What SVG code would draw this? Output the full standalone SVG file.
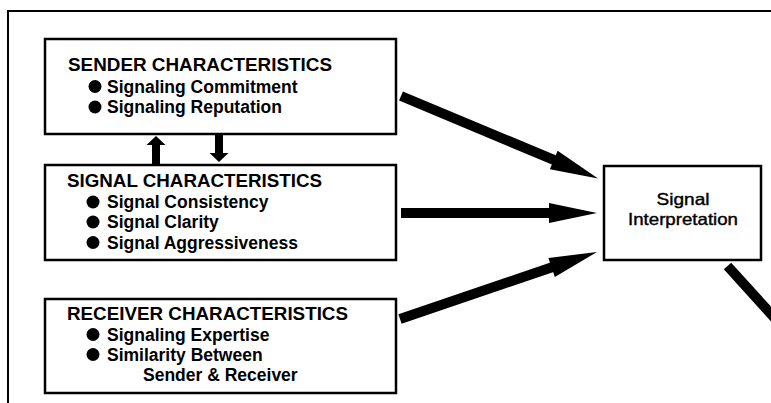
<svg xmlns="http://www.w3.org/2000/svg" width="771" height="403" viewBox="0 0 771 403">
<style>
.box{fill:#fff;stroke:#000;stroke-width:2.5}
.frame{fill:none;stroke:#000;stroke-width:2}
.t{font-family:"Liberation Sans",Arial,sans-serif;font-size:17.5px;font-weight:bold;fill:#000}
.b{font-family:"Liberation Sans",Arial,sans-serif;font-size:17.5px;font-weight:bold;fill:#000}
.n{font-family:"Liberation Sans",Arial,sans-serif;font-size:16.5px;fill:#000;stroke:#000;stroke-width:0.4}
.dot{fill:#000}
.big{stroke:#000;stroke-width:10;fill:none}
.small{stroke:#000;stroke-width:8;fill:none}
</style>
<defs>
<marker id="head" markerUnits="userSpaceOnUse" markerWidth="50" markerHeight="22" refX="2" refY="10" orient="auto" overflow="visible">
<path d="M0,0 L48,10 L0,20 Z" fill="#000"/>
</marker>
<marker id="shead" markerUnits="userSpaceOnUse" markerWidth="12" markerHeight="20" refX="1" refY="9.5" orient="auto" overflow="visible">
<path d="M0,0 L9,9.5 L0,19 Z" fill="#000"/>
</marker>
</defs>
<path class="frame" d="M8,403 L8,11 L771,11"/>
<g id="connectors">
<line class="small" x1="156" y1="165" x2="156" y2="144" marker-end="url(#shead)"/>
<line class="small" x1="219" y1="134" x2="219" y2="154" marker-end="url(#shead)"/>
<line class="big" x1="401" y1="96" x2="555.6" y2="160.7" marker-end="url(#head)"/>
<line class="big" x1="401" y1="213" x2="551" y2="213" marker-end="url(#head)"/>
<line class="big" x1="400" y1="319" x2="553.5" y2="266.8" marker-end="url(#head)"/>
<line class="big" x1="727.5" y1="266" x2="790" y2="335"/>
</g>
<g id="sender">
<rect class="box" x="45" y="39" width="351" height="95"/>
<text class="t" x="68" y="71" textLength="264" lengthAdjust="spacingAndGlyphs">SENDER CHARACTERISTICS</text>
<circle class="dot" cx="95" cy="86.5" r="6.5"/>
<text class="b" x="107" y="92.5">Signaling Commitment</text>
<circle class="dot" cx="95" cy="107" r="6.5"/>
<text class="b" x="107" y="113">Signaling Reputation</text>
</g>
<g id="signal">
<rect class="box" x="45" y="165" width="351" height="95"/>
<text class="t" x="67" y="187" textLength="255" lengthAdjust="spacingAndGlyphs">SIGNAL CHARACTERISTICS</text>
<circle class="dot" cx="93" cy="202" r="6.5"/>
<text class="b" x="107" y="208">Signal Consistency</text>
<circle class="dot" cx="93" cy="222" r="6.5"/>
<text class="b" x="107" y="228">Signal Clarity</text>
<circle class="dot" cx="93" cy="242.5" r="6.5"/>
<text class="b" x="107" y="248.5">Signal Aggressiveness</text>
</g>
<g id="receiver">
<rect class="box" x="45" y="299" width="351" height="94"/>
<text class="t" x="67" y="320" textLength="281" lengthAdjust="spacingAndGlyphs">RECEIVER CHARACTERISTICS</text>
<circle class="dot" cx="93" cy="334.5" r="6.5"/>
<text class="b" x="107" y="340.5">Signaling Expertise</text>
<circle class="dot" cx="93" cy="354.5" r="6.5"/>
<text class="b" x="107" y="360.5">Similarity Between</text>
<text class="b" x="143" y="380.5">Sender &amp; Receiver</text>
</g>
<g id="interpretation">
<rect class="box" x="604" y="166" width="157" height="94" stroke-width="2"/>
<text class="n" x="683" y="205" text-anchor="middle" textLength="53" lengthAdjust="spacingAndGlyphs">Signal</text>
<text class="n" x="683" y="225" text-anchor="middle" textLength="110" lengthAdjust="spacingAndGlyphs">Interpretation</text>
</g>
</svg>
